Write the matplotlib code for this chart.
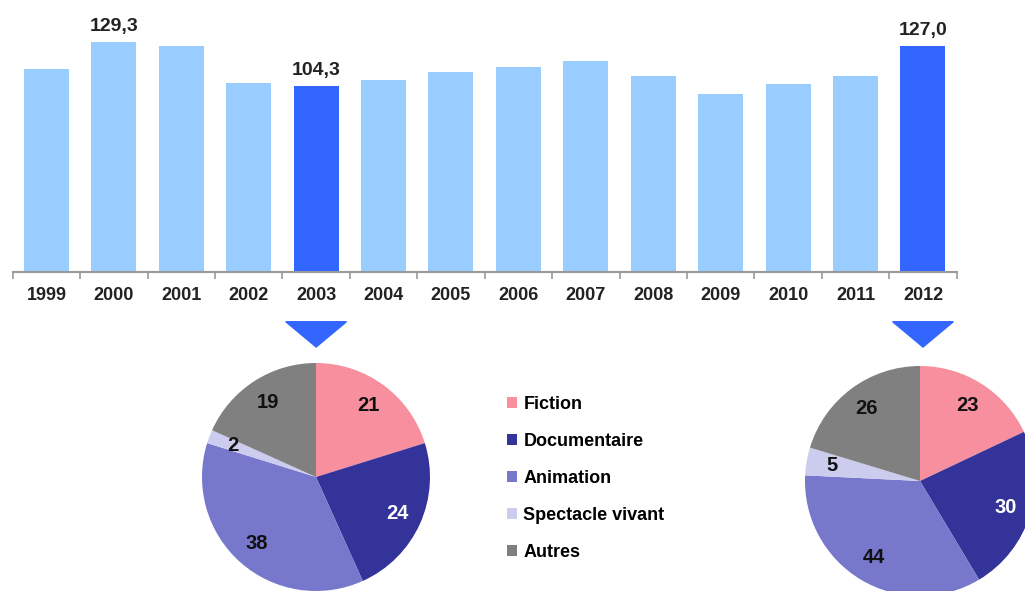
import matplotlib.pyplot as plt
from matplotlib.patches import Polygon, Patch
import numpy as np

plt.rcParams['font.family'] = ['Liberation Sans', 'DejaVu Sans']
plt.rcParams['font.weight'] = 'bold'

years = [str(y) for y in range(1999, 2013)]
totals = [113.7, 129.3, 126.7, 106.1, 104.3, 108.0, 112.4, 114.9, 118.6, 110.0, 100.1, 105.3, 110.2, 127.0]
highlight = ["2003", "2012"]
labelled = {"2000": "129,3", "2003": "104,3", "2012": "127,0"}

genres = ["Fiction", "Documentaire", "Animation", "Spectacle vivant", "Autres"]
genre_colors = ["#F78F9E", "#333399", "#7777CC", "#CCCCEE", "#808080"]
pie_2003 = [21, 24, 38, 2, 19]
pie_2012 = [23, 30, 44, 5, 26]

W, H = 1025, 591
fig = plt.figure(figsize=(W / 100, H / 100), dpi=100)

def px_axes(left, top, width, height):
    # place an axes using pixel coords measured from the top-left corner
    return fig.add_axes([left / W, 1 - (top + height) / H, width / W, height / H])

# --- bar chart ---
ax = px_axes(12.7, 0, 944, 272)
x = np.arange(len(years))
colors = ["#3366FF" if y in highlight else "#99CCFF" for y in years]
bars = ax.bar(x, totals, width=0.667, color=colors)
ax.bar_label(bars, labels=[labelled.get(y, "") for y in years], padding=5,
             fontsize=14, fontweight='bold', color="#222222")
ax.set_xlim(-0.5, len(years) - 0.5)
ax.set_ylim(0, 272 / 1.782)
ax.set_xticks(x)
ax.set_xticklabels(years, fontsize=13, fontweight='bold', color="#222222")
ax.set_xticks(np.arange(-0.5, len(years), 1), minor=True)
ax.tick_params(axis='x', which='major', length=0, pad=11)
ax.tick_params(axis='x', which='minor', length=5, color="#999999", width=1.2)
ax.set_yticks([])
for s in ["top", "right", "left"]:
    ax.spines[s].set_visible(False)
ax.spines["bottom"].set_color("#999999")
ax.spines["bottom"].set_linewidth(1.5)

# pointer triangles under the highlighted years
for y in highlight:
    i = years.index(y)
    tri = Polygon([[i - 0.45, -27.9], [i + 0.45, -27.9], [i, -42.1]],
                  closed=True, color="#3366FF", clip_on=False)
    ax.add_patch(tri)

# --- pies ---
def draw_pie(axp, values):
    total = sum(values)
    wedges, texts, autotexts = axp.pie(
        values, colors=genre_colors, startangle=90, counterclock=False,
        autopct=lambda p: "%d" % round(p * total / 100), pctdistance=0.78,
        wedgeprops=dict(linewidth=0),
        textprops=dict(fontsize=14.5, fontweight='bold', color="#111111"))
    autotexts[1].set_color("white")
    axp.set_xlim(-1, 1)
    axp.set_ylim(-1, 1)
    axp.set_aspect('equal')

ax1 = px_axes(316 - 114, 477 - 114, 228, 228)
draw_pie(ax1, pie_2003)
ax2 = px_axes(920 - 115, 481 - 115, 230, 230)
draw_pie(ax2, pie_2012)

handles = [Patch(facecolor=c, edgecolor='none') for c in genre_colors]
fig.legend(handles, genres, loc='upper left', bbox_to_anchor=(500 / W, 1 - 389 / H),
           frameon=False, fontsize=13, handlelength=0.55, handleheight=0.55,
           handletextpad=0.35, labelspacing=1.1, borderaxespad=0)

plt.savefig("out.png", dpi=100)
